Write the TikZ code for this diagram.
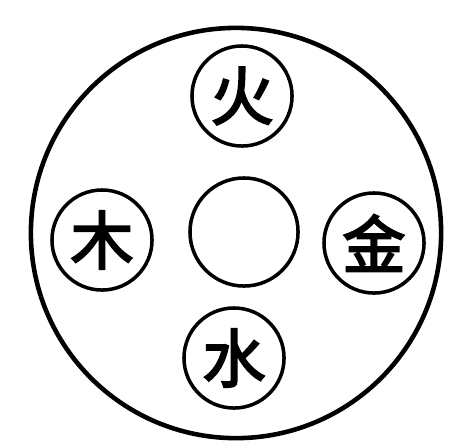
\documentclass[tikz,border=0pt]{standalone}
\usepackage{fontspec}
\newfontfamily\cjk[FakeBold=3]{Noto Sans CJK SC}
\usetikzlibrary{positioning}

\begin{document}
\begin{tikzpicture}[
  x=0.01cm, y=-0.01cm,
  element/.style={circle, draw, line width=1pt, minimum size=1cm, inner sep=0pt, font=\cjk\fontsize{18}{18}\selectfont},
  hub/.style={circle, draw, line width=1pt, minimum size=1.08cm, inner sep=0pt},
  rim/.style={circle, draw, line width=1.3pt, minimum size=4.1cm, inner sep=0pt}
]
\useasboundingbox (0,0) rectangle (462,442);

% Outer ring
\node[rim] (ring) at (236,233) {};

% Centre
\node[hub] (earth) at (244,232) {};

% Elements
\node[element] (fire) at (242,96) {火};
\node[element] (wood) at (102,240) {木};
\node[element] (metal) at (374,243) {金};
\node[element] (water) at (234,358) {水};

\end{tikzpicture}
\end{document}
